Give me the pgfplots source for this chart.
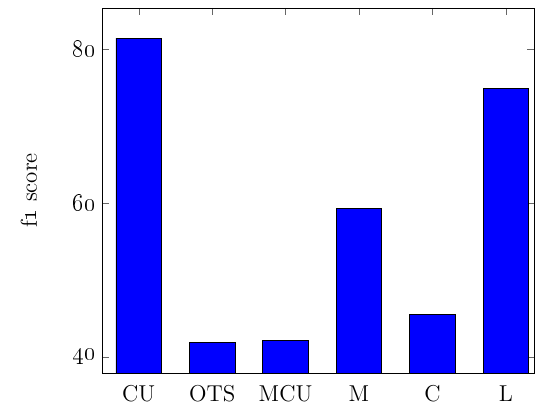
\documentclass[border=0pt]{standalone}
\usepackage{pgfplots}
\pgfplotsset{compat=1.18}
\begin{document}
\begin{tikzpicture}
\useasboundingbox (-60pt,-18.6pt) rectangle (254.7pt,219.4pt);
\begin{axis}[
  at={(0,0)}, anchor=south west,
  scale only axis,
  width=254.4pt, height=214.7pt,
  ybar, bar width=0.62,
  xmin=-0.5, xmax=5.39,
  ymin=37.9, ymax=85.3,
  xtick=data,
  xticklabels={CU,OTS,MCU,M,C,L},
  ytick={40,60,80},
  yticklabels={\oldstylenums{40},\oldstylenums{60},\oldstylenums{80}},
  ylabel={f\oldstylenums{1} score},
  tick align=inside,
  tick style={black!60},
  ticklabel style={font=\fontsize{13.5}{16}\selectfont},
  label style={font=\fontsize{13.5}{16}\selectfont},
  ylabel style={yshift=14pt},
  xticklabel style={yshift=-4pt},
]
\addplot[fill=blue, draw=black] coordinates {
  (0,81.4) (1,41.9) (2,42.1) (3,59.3) (4,45.5) (5,74.8)
};
\end{axis}
\end{tikzpicture}
\end{document}
